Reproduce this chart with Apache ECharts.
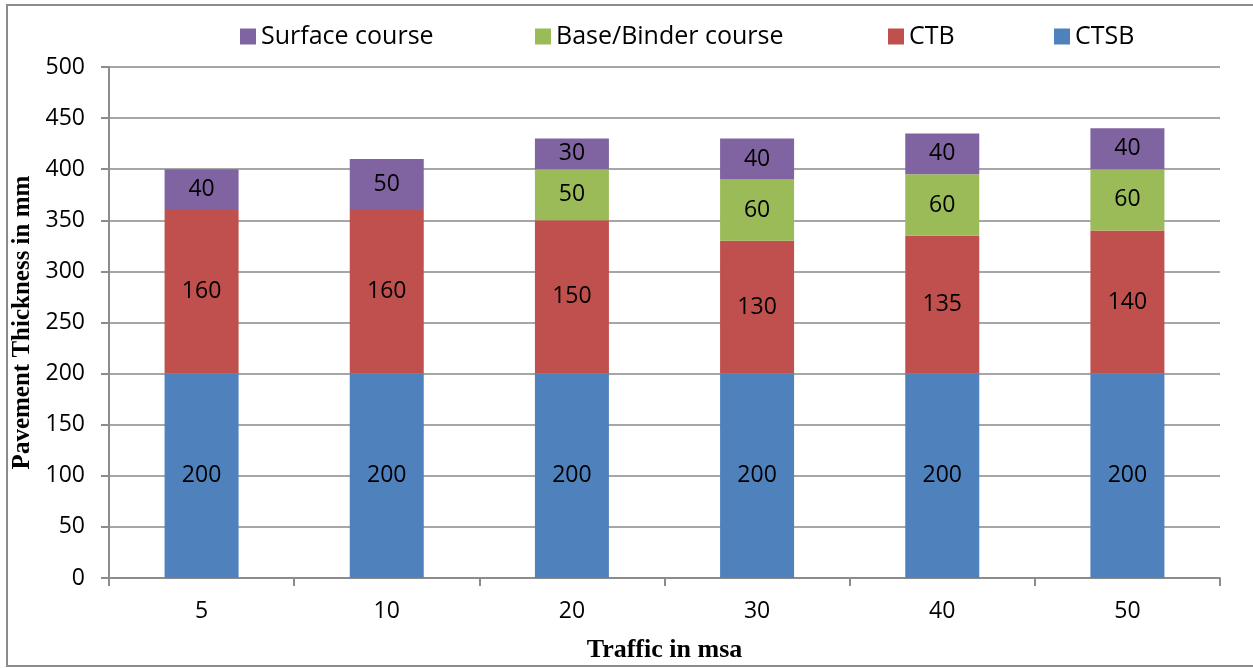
<!DOCTYPE html>
<html>
<head>
<meta charset="utf-8">
<script src="https://cdn.jsdelivr.net/npm/echarts@6/dist/echarts.min.js"></script>
<style>
  html, body { margin: 0; padding: 0; background: #fff; }
  #chart { width: 1253px; height: 668px; }
</style>
</head>
<body>
<div id="chart"></div>
<script>
  // data
  var categories = ['5', '10', '20', '30', '40', '50'];
  var ctsb = [200, 200, 200, 200, 200, 200];
  var ctb = [160, 160, 150, 130, 135, 140];
  var baseCourse = [0, 0, 50, 60, 60, 60];
  var surface = [40, 50, 30, 40, 40, 40];
  var yTicks = [0, 50, 100, 150, 200, 250, 300, 350, 400, 450, 500];

  var labelFont = '"Open Sans", "Noto Sans", sans-serif';
  var titleFont = '"Liberation Serif", "DejaVu Serif", serif';

  var myChart = echarts.init(document.getElementById('chart'));

  function barSeries(name, data, color) {
    return {
      name: name,
      type: 'bar',
      stack: 'total',
      barWidth: 74,
      // a zero layer is not drawn at all
      data: data.map(function (v) { return v === 0 ? null : v; }),
      itemStyle: { color: color },
      label: {
        show: true,
        position: 'inside',
        color: '#000',
        fontSize: 23,
        fontFamily: labelFont
      }
    };
  }

  function legendAt(left, name) {
    return {
      left: left,
      top: 19,
      data: [name],
      itemWidth: 16,
      itemHeight: 16,
      itemGap: 8,
      icon: 'rect',
      textStyle: { fontSize: 25, color: '#000', fontFamily: labelFont }
    };
  }

  var option = {
    animation: false,
    legend: [
      legendAt(235, 'Surface course'),
      legendAt(530, 'Base/Binder course'),
      legendAt(883, 'CTB'),
      legendAt(1049, 'CTSB')
    ],
    grid: {
      left: 109,
      right: 33,
      top: 67,
      bottom: 90
    },
    xAxis: {
      type: 'category',
      data: categories,
      name: 'Traffic in msa',
      nameLocation: 'middle',
      nameGap: 59,
      nameTextStyle: { fontSize: 26, fontWeight: 'bold', color: '#000', fontFamily: titleFont },
      axisLine: { lineStyle: { color: '#8c8c8c', width: 2 } },
      axisTick: { show: true, length: 8, lineStyle: { color: '#8c8c8c', width: 2 } },
      axisLabel: { fontSize: 23, color: '#000', margin: 22, fontFamily: labelFont }
    },
    yAxis: {
      type: 'value',
      min: yTicks[0],
      max: yTicks[yTicks.length - 1],
      interval: 50,
      name: 'Pavement Thickness in mm',
      nameLocation: 'middle',
      nameGap: 68,
      nameTextStyle: { fontSize: 25, fontWeight: 'bold', color: '#000', fontFamily: titleFont },
      axisLine: { show: true, lineStyle: { color: '#8c8c8c', width: 2 } },
      axisTick: { show: true, length: 8, lineStyle: { color: '#8c8c8c', width: 2 } },
      splitLine: { lineStyle: { color: '#a6a6a6', width: 2 } },
      axisLabel: { fontSize: 23, color: '#000', margin: 24, fontFamily: labelFont }
    },
    series: [
      barSeries('CTSB', ctsb, '#4f81bd'),
      barSeries('CTB', ctb, '#c0504d'),
      barSeries('Base/Binder course', baseCourse, '#9bbb59'),
      barSeries('Surface course', surface, '#8064a2')
    ],
    graphic: [{
      type: 'polyline',
      shape: { points: [[1253, 5], [7, 5], [7, 666], [1253, 666]] },
      style: { stroke: '#8c8c8c', lineWidth: 2, fill: null },
      silent: true
    }]
  };

  myChart.setOption(option);
</script>
</body>
</html>
